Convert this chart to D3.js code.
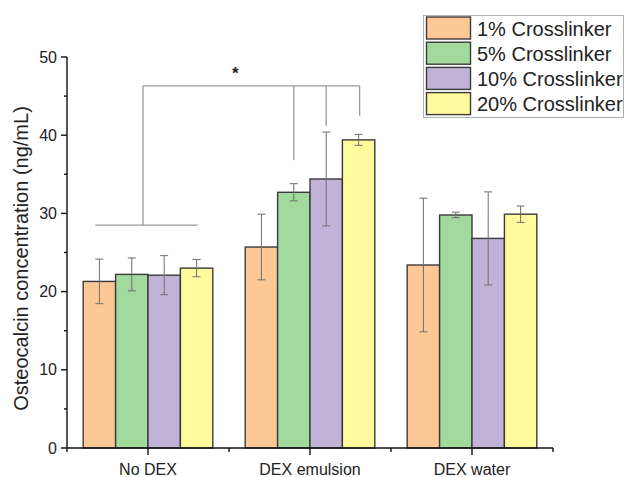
<!DOCTYPE html>
<html>
<head>
<meta charset="utf-8">
<script src="https://cdn.jsdelivr.net/npm/d3@7"></script>
<style>
  html, body { margin: 0; padding: 0; background: #fff; }
  svg { display: block; font-family: "Liberation Sans", Arial, sans-serif; }
</style>
</head>
<body>
<svg id="chart" width="625" height="477"></svg>
<script>
// Osteocalcin concentration by DEX condition and crosslinker percentage
const groups = ["No DEX", "DEX emulsion", "DEX water"];
const series = ["1% Crosslinker", "5% Crosslinker", "10% Crosslinker", "20% Crosslinker"];
const colors = ["#fcc896", "#a2d99d", "#c1b2d8", "#fffb9d"];

// means per series, one value per group
const means = [
  [21.3, 25.7, 23.4],
  [22.2, 32.7, 29.8],
  [22.1, 34.4, 26.8],
  [23.0, 39.4, 29.9]
];
// standard deviations per series, one value per group
const errors = [
  [2.85, 4.2, 8.55],
  [2.1, 1.1, 0.35],
  [2.5, 6.0, 5.95],
  [1.1, 0.7, 1.05]
];

const yTicks = [0, 10, 20, 30, 40, 50];
const yMinorTicks = [5, 15, 25, 35, 45];

// significance bracket levels (ng/mL)
const bracketBase = 28.5;      // horizontal over No DEX
const bracketTop = 46.3;       // joining line
const bracketDrops = [36.8, 41.2, 42.5]; // ends above 5%, 10%, 20% DEX emulsion
const starLevel = 48.3;

const svg = d3.select("#chart");
const margin = { left: 67, right: 72, top: 57, bottom: 29 };
const W = 625, H = 477;

const x = d3.scaleBand().domain(groups).range([margin.left, W - margin.right]).paddingInner(0).paddingOuter(0);
const inner = d3.scaleBand().domain(series).range([0, x.bandwidth() * 0.8]);
const groupOffset = x.bandwidth() * 0.1;
const y = d3.scaleLinear().domain([0, 50]).range([H - margin.bottom, margin.top]);

const barX = (si, gi) => x(groups[gi]) + groupOffset + inner(series[si]);
const barC = (si, gi) => barX(si, gi) + inner.bandwidth() / 2;

// bars
const data = [];
series.forEach((s, si) => groups.forEach((g, gi) => data.push({ si, gi, v: means[si][gi], e: errors[si][gi] })));

svg.append("g").selectAll("rect").data(data).join("rect")
  .attr("x", d => barX(d.si, d.gi))
  .attr("y", d => y(d.v))
  .attr("width", inner.bandwidth())
  .attr("height", d => y(0) - y(d.v))
  .attr("fill", d => colors[d.si])
  .attr("stroke", "#3a3a3a")
  .attr("stroke-width", 1.4);

// error bars
const eg = svg.append("g").attr("stroke", "#6e6e6e").attr("stroke-width", 1).attr("fill", "none");
data.forEach(d => {
  const cx = barC(d.si, d.gi);
  const t = y(d.v + d.e), b = y(d.v - d.e);
  eg.append("line").attr("x1", cx).attr("x2", cx).attr("y1", t).attr("y2", b);
  eg.append("line").attr("x1", cx - 4).attr("x2", cx + 4).attr("y1", t).attr("y2", t);
  eg.append("line").attr("x1", cx - 4).attr("x2", cx + 4).attr("y1", b).attr("y2", b);
});

// significance brackets
const bg = svg.append("g").attr("stroke", "#9a9a9a").attr("stroke-width", 1.3).attr("fill", "none");
const baseL = barC(0, 0) - 4, baseR = barC(3, 0) + 1;
const stemX = x("No DEX") + x.bandwidth() / 2 - 5;
bg.append("line").attr("x1", baseL).attr("x2", baseR).attr("y1", y(bracketBase)).attr("y2", y(bracketBase));
bg.append("line").attr("x1", stemX).attr("x2", stemX).attr("y1", y(bracketBase)).attr("y2", y(bracketTop));
const topR = barC(3, 1) + 1;
bg.append("line").attr("x1", stemX).attr("x2", topR).attr("y1", y(bracketTop)).attr("y2", y(bracketTop));
bracketDrops.forEach((lv, i) => {
  const cx = i === 2 ? topR : barC(i + 1, 1);
  bg.append("line").attr("x1", cx).attr("x2", cx).attr("y1", y(bracketTop)).attr("y2", y(lv));
});
svg.append("text")
  .attr("x", (stemX + topR) / 2 - 16)
  .attr("y", y(starLevel) + 9)
  .attr("text-anchor", "middle")
  .attr("font-size", 17)
  .attr("font-weight", "bold")
  .attr("fill", "#222")
  .text("*");

// y axis
const ya = svg.append("g").attr("stroke", "#111").attr("stroke-width", 1.4);
ya.append("line").attr("x1", margin.left).attr("x2", margin.left).attr("y1", y(50)).attr("y2", y(0));
yTicks.forEach(t => ya.append("line").attr("x1", margin.left - 6).attr("x2", margin.left).attr("y1", y(t)).attr("y2", y(t)));
yMinorTicks.forEach(t => ya.append("line").attr("x1", margin.left - 3).attr("x2", margin.left).attr("y1", y(t)).attr("y2", y(t)));
svg.append("g").selectAll("text").data(yTicks).join("text")
  .attr("x", margin.left - 10)
  .attr("y", d => y(d) + 5.5)
  .attr("text-anchor", "end")
  .attr("font-size", 16)
  .attr("fill", "#222")
  .text(d => d);

// x axis
const xa = svg.append("g").attr("stroke", "#111").attr("stroke-width", 1.4);
xa.append("line").attr("x1", margin.left).attr("x2", W - margin.right).attr("y1", y(0)).attr("y2", y(0));
groups.forEach(g => {
  const cx = x(g) + x.bandwidth() / 2;
  xa.append("line").attr("x1", cx).attr("x2", cx).attr("y1", y(0)).attr("y2", y(0) + 7);
});
groups.concat(["end"]).forEach((g, i) => {
  const ex = margin.left + i * x.bandwidth();
  xa.append("line").attr("x1", ex).attr("x2", ex).attr("y1", y(0)).attr("y2", y(0) + 4);
});
svg.append("g").selectAll("text").data(groups).join("text")
  .attr("x", d => x(d) + x.bandwidth() / 2)
  .attr("y", y(0) + 27)
  .attr("text-anchor", "middle")
  .attr("font-size", 16)
  .attr("fill", "#222")
  .text(d => d);

// y axis title
svg.append("text")
  .attr("transform", `translate(28, ${(y(0) + y(50)) / 2 + 6}) rotate(-90)`)
  .attr("text-anchor", "middle")
  .attr("font-size", 20)
  .attr("fill", "#222")
  .text("Osteocalcin concentration (ng/mL)");

// legend
const lg = svg.append("g");
lg.append("rect").attr("x", 423.5).attr("y", 15.5).attr("width", 200).attr("height", 102)
  .attr("fill", "#fff").attr("stroke", "#b0b0b0").attr("stroke-width", 1);
series.forEach((s, i) => {
  const ry = 17 + i * 25.2;
  lg.append("rect").attr("x", 426.5).attr("y", ry).attr("width", 44).attr("height", 22)
    .attr("fill", colors[i]).attr("stroke", "#3a3a3a").attr("stroke-width", 1.4);
  lg.append("text").attr("x", 477).attr("y", ry + 18.5)
    .attr("font-size", 20).attr("fill", "#222").text(s);
});
</script>
</body>
</html>
